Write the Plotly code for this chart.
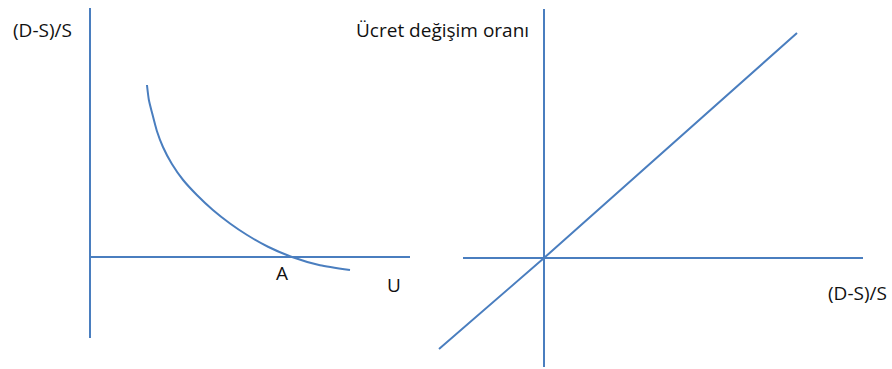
import plotly.graph_objects as go

# ---- Left panel data: U (x) vs (D-S)/S (y) ----
left_vaxis_x = [0, 0]
left_vaxis_y = [-3.24, 9.96]
left_haxis_x = [0, 10]
left_haxis_y = [0, 0]
curve_u = [1.78, 1.84, 1.94, 2.09, 2.28, 2.56, 2.91, 3.34, 3.84, 4.375, 4.91, 5.5625, 6.3125, 7.1875, 8.125]
curve_v = [6.88, 6.28, 5.76, 5.04, 4.40, 3.72, 3.08, 2.48, 1.88, 1.34, 0.88, 0.41, 0.0, -0.33, -0.52]

# ---- Right panel data: (D-S)/S (x) vs wage change rate (y) ----
right_vaxis_x = [0, 0]
right_vaxis_y = [-4.36, 9.96]
right_haxis_x = [-3.24, 12.76]
right_haxis_y = [0, 0]
diag_x = [-4.2, 0, 10.12]
diag_y = [-3.64, 0, 9.0]

W, H = 892, 369
BLUE = "#4A7EBF"
LW = 2

fig = go.Figure()

def add(x, y, xa, ya, shape="linear"):
    fig.add_trace(go.Scatter(x=x, y=y, mode="lines", xaxis=xa, yaxis=ya,
                             line=dict(color=BLUE, width=LW, shape=shape, smoothing=0.6),
                             hoverinfo="skip", showlegend=False))

add(left_vaxis_x, left_vaxis_y, "x", "y")
add(left_haxis_x, left_haxis_y, "x", "y")
add(curve_u, curve_v, "x", "y", shape="spline")
add(right_vaxis_x, right_vaxis_y, "x2", "y2")
add(right_haxis_x, right_haxis_y, "x2", "y2")
add(diag_x, diag_y, "x2", "y2")

ax = dict(visible=False, showgrid=False, zeroline=False, fixedrange=True)
fig.update_layout(
    width=W, height=H,
    margin=dict(l=0, r=0, t=0, b=0),
    paper_bgcolor="white", plot_bgcolor="white",
    xaxis=dict(ax, domain=[0, 1], range=[-90/32, (W-90)/32]),
    yaxis=dict(ax, domain=[0, 1], range=[(257-H)/25, 257/25]),
    xaxis2=dict(ax, domain=[0, 1], range=[-544/25, (W-544)/25], overlaying="x"),
    yaxis2=dict(ax, domain=[0, 1], range=[(258-H)/25, 258/25], overlaying="y"),
    showlegend=False,
)

FONT = dict(family="Open Sans, sans-serif", size=19, color="#111111")

def label(text, px, py):
    fig.add_annotation(text=text, xref="paper", yref="paper",
                       x=px/W, y=1-py/H, xanchor="center", yanchor="middle",
                       showarrow=False, font=FONT)

label("(D-S)/S", 42.5, 30)
label("Ücret değişim oranı", 442, 30)
label("A", 282, 273)
label("U", 394, 285)
label("(D-S)/S", 857, 293)

fig.write_html("out.html", config={"displayModeBar": False},
               post_script="document.body.style.margin='0';document.body.style.overflow='hidden';")
